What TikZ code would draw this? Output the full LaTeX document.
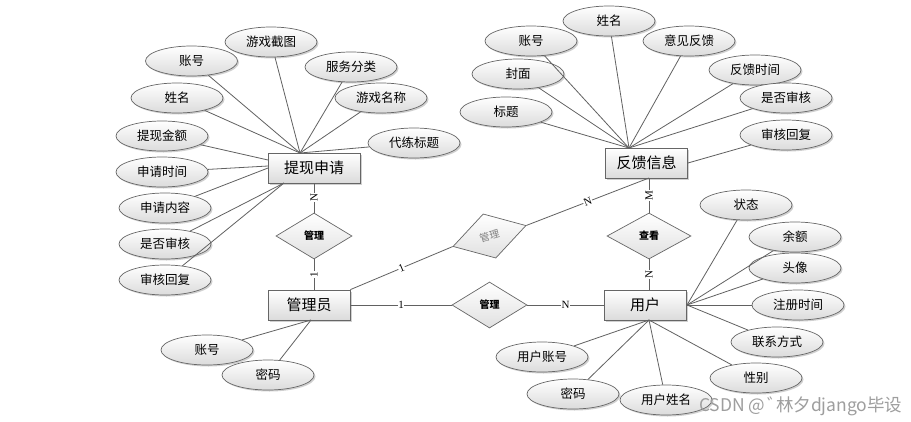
\documentclass[tikz,border=0pt]{standalone}
\usepackage{fontspec}
\setmainfont{Noto Sans CJK SC}
\newfontfamily\numfont{Liberation Serif}
\usetikzlibrary{shapes.geometric,shadows}
\begin{document}
\begin{tikzpicture}[x=1pt,y=-1pt,
  ln/.style={draw=black!62, line width=0.8pt},
  shd/.style={drop shadow={shadow xshift=1.5pt,shadow yshift=-1.5pt,fill=black!30,opacity=0.6}},
  ent/.style={rectangle, draw=black!60, line width=0.8pt, top color=white, bottom color=black!14, shd, minimum width=82pt, minimum height=30pt, inner sep=0pt, font=\fontsize{15}{17}\selectfont},
  attr/.style={ellipse, draw=black!60, line width=0.7pt, top color=white, bottom color=black!14, shd, minimum width=92pt, minimum height=30pt, inner sep=0pt, font=\fontsize{12.5}{14}\selectfont},
  rel/.style={diamond, draw=black!60, line width=0.7pt, top color=white, bottom color=black!12, minimum width=76pt, minimum height=46pt, inner sep=0pt, font=\bfseries\fontsize{10}{12}\selectfont},
  card/.style={fill=white, inner sep=0.6pt, font=\numfont\fontsize{11}{12}\selectfont}
]
\useasboundingbox (0,0) rectangle (911,421);
\fill[white] (0,0) rectangle (911,421);

% entities
\node[ent, minimum width=92pt] (t) at (314,168) {提现申请};
\node[ent] (f) at (646.5,163) {反馈信息};
\node[ent] (m) at (309,305) {管理员};
\node[ent] (u) at (645,305) {用户};

% relationships
\node[rel] (r1) at (314,236) {管理};
\node[rel, rotate=16, text=black!50, font=\fontsize{10}{12}\selectfont] (r2) at (489.5,236) {管理};
\node[rel, minimum width=75pt] (r3) at (489.5,305) {管理};
\node[rel, minimum width=84pt] (r4) at (649,236) {查看};

% attributes of 提现申请
\node[attr] (t1) at (191.5,61) {账号};
\node[attr] (t2) at (271,42) {游戏截图};
\node[attr] (t3) at (351,67) {服务分类};
\node[attr] (t4) at (381,98) {游戏名称};
\node[attr] (t5) at (177,98) {姓名};
\node[attr] (t6) at (162,136) {提现金额};
\node[attr] (t7) at (414,143) {代练标题};
\node[attr] (t8) at (162,172) {申请时间};
\node[attr] (t9) at (165,208) {申请内容};
\node[attr] (t10) at (165,244) {是否审核};
\node[attr] (t11) at (165,280) {审核回复};

% attributes of 管理员
\node[attr] (m1) at (207,350) {账号};
\node[attr] (m2) at (268,375) {密码};

% attributes of 反馈信息
\node[attr] (f1) at (609,21) {姓名};
\node[attr] (f2) at (531,41) {账号};
\node[attr] (f3) at (689,41) {意见反馈};
\node[attr] (f4) at (518,74) {封面};
\node[attr] (f5) at (755,70) {反馈时间};
\node[attr] (f6) at (506,112) {标题};
\node[attr] (f7) at (786,98) {是否审核};
\node[attr] (f8) at (786,135) {审核回复};

% attributes of 用户
\node[attr] (u1) at (746,205) {状态};
\node[attr] (u2) at (795,237) {余额};
\node[attr] (u3) at (795,268) {头像};
\node[attr] (u4) at (798,305) {注册时间};
\node[attr] (u5) at (777,342) {联系方式};
\node[attr] (u6) at (756,378) {性别};
\node[attr] (u7) at (542,357) {用户账号};
\node[attr] (u8) at (573,394) {密码};
\node[attr] (u9) at (666,400) {用户姓名};

% hub points on the entities
\coordinate (tT) at (300,153);
\coordinate (tL1) at (268,160);
\coordinate (tL2) at (268,166);
\coordinate (tL3) at (268,168);
\coordinate (tB) at (284,183);
\coordinate (tD) at (314,183);
\coordinate (mT) at (314,290);
\coordinate (mB) at (311,320);
\coordinate (fT) at (629,148);
\coordinate (fB) at (649,178);
\coordinate (uT) at (649,290);
\coordinate (uR) at (687,305);
\coordinate (uB) at (649,320);

% attribute connectors
\foreach \a in {t1,t2,t3,t4,t5,t7} \draw[ln] (\a) -- (tT);
\draw[ln] (t6) -- (tL1);
\draw[ln] (t8) -- (tL2);
\draw[ln] (t9) -- (tL3);
\draw[ln] (t10) -- (tB);
\draw[ln] (t11) -- (tB);
\draw[ln] (m1) -- (mB);
\draw[ln] (m2) -- (mB);
\foreach \a in {f1,f2,f3,f4,f5,f6,f7} \draw[ln] (\a) -- (fT);
\draw[ln] (f8) -- (f.east);
\foreach \a in {u1,u2,u3,u4,u5} \draw[ln] (\a) -- (uR);
\foreach \a in {u6,u7,u8,u9} \draw[ln] (\a) -- (uB);

% relationship connectors
\draw[ln] (tD) -- node[card, rotate=90] {N} (r1.north);
\draw[ln] (r1.south) -- node[card, rotate=90] {1} (mT);
\draw[ln] (m.north east) -- node[card, sloped] {1} (r2.west);
\draw[ln] (r2.east) -- node[card, sloped] {N} (fB);
\draw[ln] (m.east) -- node[card] {1} (r3.west);
\draw[ln] (r3.east) -- node[card] {N} (u.west);
\draw[ln] (fB) -- node[card, rotate=90] {M} (r4.north);
\draw[ln] (r4.south) -- node[card, rotate=90] {N} (uT);

% watermark
\node[anchor=west, text=black!38, inner sep=0pt, font=\fontsize{17.5}{19}\selectfont] (wm) at (699,406) {CSDN @\kern2pt ゛\kern-9pt 林夕django毕设};
\end{tikzpicture}
\end{document}
